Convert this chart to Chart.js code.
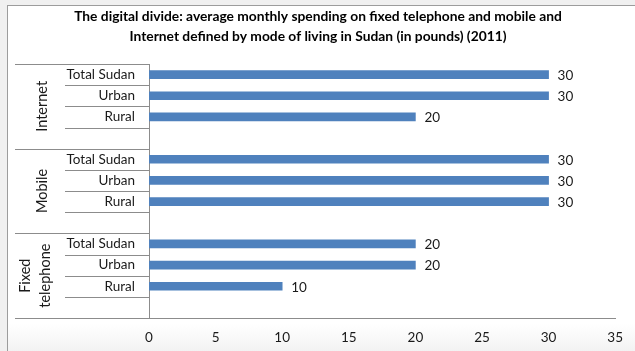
<!DOCTYPE html>
<html>
<head>
<meta charset="utf-8">
<script src="https://cdn.jsdelivr.net/npm/chart.js@4/dist/chart.umd.min.js"></script>
<style>
  html, body { margin: 0; padding: 0; background: #f0f0f0; }
  #wrap { position: relative; width: 635px; height: 351px; overflow: hidden; }
  #frame {
    position: absolute; left: 7px; top: 5px; right: 0; bottom: 0;
    border-left: 1px solid #9c9c9c; border-top: 1px solid #9c9c9c;
    background: linear-gradient(to bottom, #ffffff 0px, #ffffff 318px, #f2f2f2 346px);
  }
  canvas { position: absolute; left: 0; top: 0; }
</style>
</head>
<body>
<div id="wrap">
  <div id="frame"></div>
  <canvas id="chart" width="635" height="351"></canvas>
</div>
<script>
// Spending categories (top to bottom) and the place breakdown inside each
const groups = ['Internet', 'Mobile', ['Fixed', 'telephone']];
const places = ['Total Sudan', 'Urban', 'Rural'];

// Average monthly spending, pounds (order follows `places`)
const internet = [30, 30, 20];
const mobile = [30, 30, 30];
const fixedPhone = [20, 20, 10];

// Value axis
const xMin = 0;
const xMax = 35;
const xStep = 5;

const titleLines = [
  'The digital divide: average monthly spending on fixed telephone and mobile and',
  'Internet defined by mode of living in Sudan (in pounds) (2011)'
];

// Each group gets its places plus one empty spacer row
const groupValues = [internet, mobile, fixedPhone];
const rowLabels = [];
const rowValues = [];
groupValues.forEach(vals => {
  places.forEach((p, i) => { rowLabels.push(p); rowValues.push(vals[i]); });
  rowLabels.push('');
  rowValues.push(null);
});
const rowsPerGroup = places.length + 1;

const FONT = "Lato, sans-serif";
const LINE = '#8c8c8c';
const TEXT = '#1a1a1a';

// Two-line title, centred over the framed panel
const panelTitle = {
  id: 'panelTitle',
  afterDraw(chart) {
    const ctx = chart.ctx;
    ctx.save();
    ctx.font = "bold 13.8px " + FONT;
    ctx.fillStyle = '#000';
    ctx.textAlign = 'center';
    ctx.textBaseline = 'middle';
    titleLines.forEach((t, i) => ctx.fillText(t, 318, 17 + i * 20));
    ctx.restore();
  }
};

// Value labels at the end of each bar
const valueLabels = {
  id: 'valueLabels',
  afterDatasetsDraw(chart) {
    const ctx = chart.ctx;
    const meta = chart.getDatasetMeta(0);
    ctx.save();
    ctx.font = "13.5px " + FONT;
    ctx.fillStyle = TEXT;
    ctx.textAlign = 'left';
    ctx.textBaseline = 'middle';
    meta.data.forEach((bar, i) => {
      const v = rowValues[i];
      if (v === null) return;
      ctx.fillText(String(v), bar.x + 9, bar.y + 1);
    });
    ctx.restore();
  }
};

// Multi-level category axis: row dividers, group dividers and rotated group names
const groupAxis = {
  id: 'groupAxis',
  afterDraw(chart) {
    const ctx = chart.ctx;
    const y = chart.scales.y;
    const area = chart.chartArea;
    const n = rowLabels.length;
    const edge = i => i === 0 ? area.top : (i === n ? area.bottom
      : (y.getPixelForValue(i - 1) + y.getPixelForValue(i)) / 2);
    ctx.save();
    ctx.strokeStyle = LINE;
    ctx.lineWidth = 1;
    for (let i = 0; i <= n; i++) {
      const py = Math.round(edge(i)) + 0.5;
      const isGroupEdge = i % rowsPerGroup === 0;
      ctx.beginPath();
      ctx.moveTo(isGroupEdge ? 15 : 65, py);
      ctx.lineTo(area.left, py);
      ctx.stroke();
    }
    ctx.fillStyle = TEXT;
    ctx.font = "14.5px " + FONT;
    ctx.textAlign = 'center';
    ctx.textBaseline = 'middle';
    groups.forEach((g, gi) => {
      const top = edge(gi * rowsPerGroup);
      const bottom = edge((gi + 1) * rowsPerGroup);
      const cy = (top + bottom) / 2;
      const lines = Array.isArray(g) ? g : [g];
      const lh = 20;
      ctx.save();
      ctx.translate(lines.length > 1 ? 35 : 42, cy);
      ctx.rotate(-Math.PI / 2);
      lines.forEach((t, li) => {
        ctx.fillText(t, 0, (li - (lines.length - 1) / 2) * lh);
      });
      ctx.restore();
    });
    ctx.restore();
  }
};

new Chart(document.getElementById('chart'), {
  type: 'bar',
  data: {
    labels: rowLabels,
    datasets: [{
      data: rowValues,
      backgroundColor: '#4f81bd',
      borderWidth: 0,
      barThickness: 8
    }]
  },
  options: {
    indexAxis: 'y',
    responsive: false,
    animation: false,
    devicePixelRatio: 1,
    layout: { padding: { left: 0, right: 18, top: 64, bottom: 0 } },
    plugins: {
      legend: { display: false },
      tooltip: { enabled: false },
      title: { display: false }
    },
    scales: {
      x: {
        min: xMin,
        max: xMax,
        ticks: {
          stepSize: xStep,
          color: TEXT,
          font: { family: FONT, size: 13.5 },
          padding: 12
        },
        grid: { display: false, drawTicks: false },
        border: { display: true, color: LINE },
        afterFit(s) { s.height = 33; }
      },
      y: {
        ticks: {
          color: TEXT,
          font: { family: FONT, size: 13.5 },
          padding: 14,
          autoSkip: false
        },
        grid: { display: false, drawTicks: false },
        border: { display: true, color: LINE },
        afterFit(s) { s.width = 149; }
      }
    }
  },
  plugins: [valueLabels, groupAxis, panelTitle]
});
</script>
</body>
</html>
